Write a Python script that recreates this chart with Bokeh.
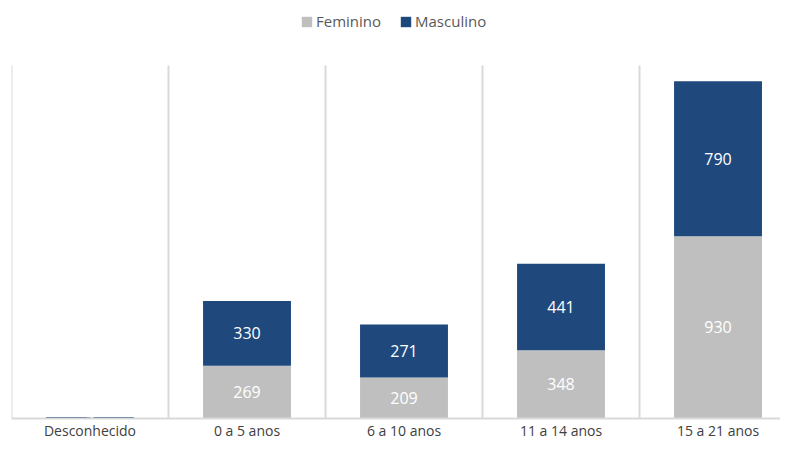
from bokeh.plotting import figure
from bokeh.models import Range1d, FixedTicker, Legend, LegendItem, ColumnDataSource
from bokeh.core.properties import value
from bokeh.embed import file_html
from bokeh.resources import INLINE

categories = ["Desconhecido", "0 a 5 anos", "6 a 10 anos", "11 a 14 anos", "15 a 21 anos"]
feminino = [3, 269, 209, 348, 930]
masculino = [5, 330, 271, 441, 790]
Y_AXIS_MAX = 1800

FONT = "Open Sans"
GRAY = "#BFBFBF"
BLUE = "#1F497D"

xs = list(range(len(categories)))
src = ColumnDataSource(dict(x=xs, Feminino=feminino, Masculino=masculino))

p = figure(width=780, height=442, x_range=Range1d(-0.5, 4.398), y_range=Range1d(0, 2132),
           output_backend="svg", toolbar_location=None,
           min_border_left=11, min_border_right=0, min_border_top=0, min_border_bottom=22)
p.yaxis.visible = False
p.outline_line_color = None
p.background_fill_color = "white"
p.xgrid.grid_line_color = None
p.ygrid.grid_line_color = None

# vertical separators between categories, spanning the value axis
bounds = [i - 0.5 for i in range(len(categories) + 1)]
p.segment(x0=bounds, y0=[0] * len(bounds), x1=bounds, y1=[Y_AXIS_MAX] * len(bounds),
          line_color="#D9D9D9", line_width=2)

rs = p.vbar_stack(["Feminino", "Masculino"], x="x", width=0.56, color=[GRAY, BLUE],
                  line_color=None, source=src)

# labels
fem_y = [f / 2 for f in feminino]
mas_y = [f + m / 2 for f, m in zip(feminino, masculino)]
fem_txt = [str(v) if v >= 10 else "" for v in feminino]
mas_txt = [str(v) for v in masculino]
p.text(x=xs, y=fem_y, text=fem_txt, text_align="center", text_baseline="middle",
       text_color="white", text_font=value(FONT), text_font_size="16px")
p.text(x=xs, y=mas_y, text=mas_txt, text_align="center", text_baseline="middle",
       text_color="white", text_font=value(FONT), text_font_size="16px")

ax = p.xaxis[0]
ax.ticker = FixedTicker(ticks=xs)
ax.major_label_overrides = {i: c for i, c in enumerate(categories)}
ax.axis_line_color = "#D9D9D9"
ax.axis_line_width = 2
ax.major_tick_line_color = None
ax.major_tick_out = 0
ax.major_tick_in = 0
ax.minor_tick_line_color = None
ax.major_label_standoff = 2
ax.major_label_text_font = FONT
ax.major_label_text_font_size = "14px"
ax.major_label_text_color = "#404040"

legend = Legend(items=[LegendItem(label="Feminino", renderers=[rs[0]]),
                       LegendItem(label="Masculino", renderers=[rs[1]])],
                orientation="horizontal", location=(289, 387),
                border_line_color=None, background_fill_alpha=0,
                label_text_font=FONT, label_text_font_size="15px", label_text_color="#595959",
                glyph_width=13, glyph_height=13, spacing=18, padding=4, margin=0, label_standoff=3)
p.add_layout(legend)

open("out.html", "w").write(file_html(p, INLINE))
